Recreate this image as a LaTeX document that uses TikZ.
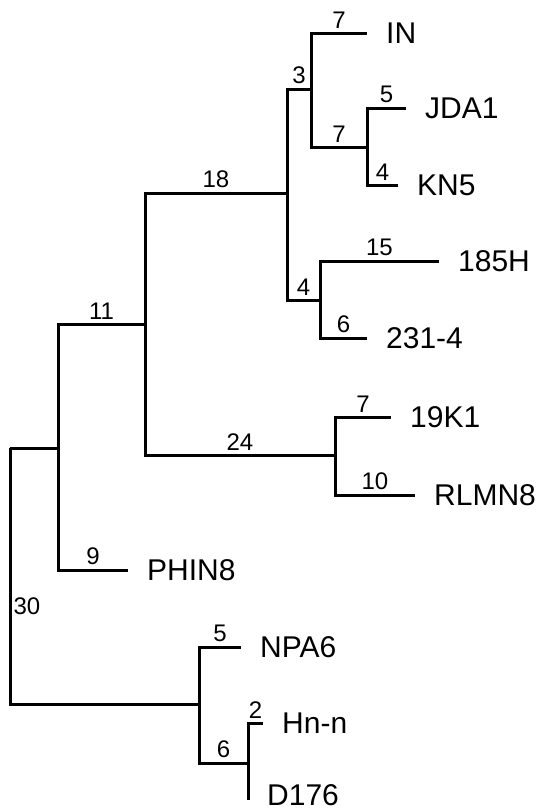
\documentclass[tikz,border=0pt]{standalone}
\usepackage{fontspec}
\setmainfont{Liberation Sans}
\tikzset{branch/.style={ % Sets the properties for each branch
            line width=3pt},
        len/.style={ % Branch length written over a branch
            anchor=south, inner sep=0pt, yshift=3.5pt,
            font=\fontsize{24}{26}\selectfont},
        taxon/.style={ % Name at the end of a branch
            anchor=west, inner sep=0pt, xshift=19pt,
            font=\fontsize{30}{34}\selectfont}
        }
\begin{document}
\begin{tikzpicture}[x=1pt, y=-1pt]
    \useasboundingbox (0,0) rectangle (542,812);

    % inner nodes
    \coordinate (root) at (10,448);
    \coordinate (nA) at (58,448);
    \coordinate (n11) at (145,324);
    \coordinate (n18) at (287,193);
    \coordinate (n3) at (311,89);
    \coordinate (n7) at (367,147);
    \coordinate (n4) at (320,300);
    \coordinate (n24) at (335,455);
    \coordinate (nB) at (199,704);
    \coordinate (n6) at (248,763);

    % tips
    \coordinate (tIN) at (367,33);
    \coordinate (tJDA1) at (406,108);
    \coordinate (tKN5) at (398,185);
    \coordinate (t185H) at (439,261);
    \coordinate (t2314) at (367,338);
    \coordinate (t19K1) at (391,417);
    \coordinate (tRLMN8) at (415,495);
    \coordinate (tPHIN8) at (128,570);
    \coordinate (tNPA6) at (241,647);
    \coordinate (tHnn) at (263,723);
    \coordinate (tD176) at (248,800);

    \node[taxon] (IN) at (tIN) {IN};
    \node[taxon] (JDA1) at (tJDA1) {JDA1};
    \node[taxon] (KN5) at (tKN5) {KN5};
    \node[taxon] (185H) at (t185H) {185H};
    \node[taxon] (231-4) at (t2314) {231-4};
    \node[taxon] (19K1) at (t19K1) {19K1};
    \node[taxon] (RLMN8) at (tRLMN8) {RLMN8};
    \node[taxon] (PHIN8) at (tPHIN8) {PHIN8};
    \node[taxon] (NPA6) at (tNPA6) {NPA6};
    \node[taxon] (Hn-n) at (tHnn) {Hn-n};
    \node[taxon, yshift=5pt] (D176) at (tD176) {D176};

    \draw[branch] (root) -- (nA);
    \draw[branch] (root) |- node[pos=0.31, anchor=west, inner sep=0pt, xshift=2pt,
        font=\fontsize{24}{26}\selectfont] {30} (nB);

    \draw[branch] (nA) |- node[len, pos=0.75] {11} (n11);
    \draw[branch] (nA) |- node[len, pos=0.75] {9} (tPHIN8);

    \draw[branch] (n11) |- node[len, pos=0.75] {18} (n18);
    \draw[branch] (n11) |- node[len, pos=0.75] {24} (n24);

    \draw[branch] (n18) |- node[len, pos=0.75] {3} (n3);
    \draw[branch] (n18) |- node[len, pos=0.75] {4} (n4);

    \draw[branch] (n3) |- node[len, pos=0.75] {7} (tIN);
    \draw[branch] (n3) |- node[len, pos=0.75] {7} (n7);

    \draw[branch] (n7) |- node[len, pos=0.75] {5} (tJDA1);
    \draw[branch] (n7) |- node[len, pos=0.75] {4} (tKN5);

    \draw[branch] (n4) |- node[len, pos=0.75] {15} (t185H);
    \draw[branch] (n4) |- node[len, pos=0.75] {6} (t2314);

    \draw[branch] (n24) |- node[len, pos=0.75] {7} (t19K1);
    \draw[branch] (n24) |- node[len, pos=0.75] {10} (tRLMN8);

    \draw[branch] (nB) |- node[len, pos=0.75] {5} (tNPA6);
    \draw[branch] (nB) |- node[len, pos=0.75] {6} (n6);

    \draw[branch] (n6) |- node[len, pos=0.75] {2} (tHnn);
    \draw[branch] (n6) -- (tD176);
\end{tikzpicture}
\end{document}
